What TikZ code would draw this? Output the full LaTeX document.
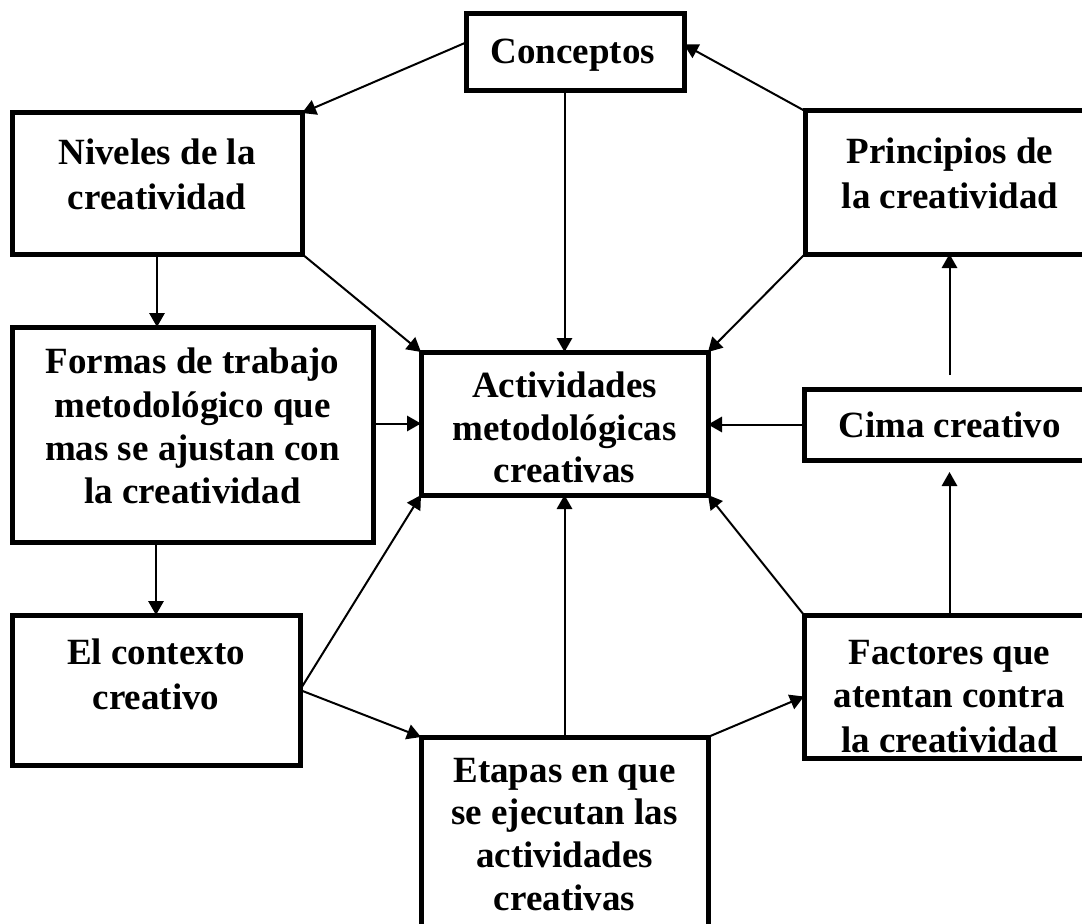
\documentclass[tikz,border=0pt]{standalone}
\usepackage{fontspec}
\setmainfont{Liberation Serif}
\usetikzlibrary{arrows.meta,calc}
\begin{document}
\begin{tikzpicture}[x=0.75pt,y=-0.75pt,
  bx/.style n args={2}{draw, line width=3.75pt, minimum width=#1*0.75pt, minimum height=#2*0.75pt, inner sep=0pt, outer sep=0pt},
  tx/.style={anchor=base, inner sep=0pt, font=\fontsize{27.75pt}{32pt}\selectfont\bfseries},
  conn/.style={line width=1.5pt, -{Triangle[length=10.5pt,width=11.5pt]}}]
\useasboundingbox (0,0) rectangle (1082,924);
\clip (0,0) rectangle (1082,924);
% boxes
\node[bx={218}{77}]  (conc) at (575,52.5) {};
\node[bx={290}{141}] (niv)  at (157,183.5) {};
\node[bx={290}{143}] (prin) at (950,182.5) {};
\node[bx={361}{215}] (form) at (192.5,434.5) {};
\node[bx={287}{143}] (act)  at (564.5,423.5) {};
\node[bx={291}{71}]  (cima) at (949.5,424.5) {};
\node[bx={288}{150}] (ctx)  at (156,690) {};
\node[bx={287}{223}] (etap) at (564.5,848.5) {};
\node[bx={291}{143}] (fact) at (949.5,686.5) {};
% texts
\node[tx] (conct1) at (573,64) {Conceptos};
\node[tx] (nivt1) at (157,164) {Niveles de la};
\node[tx] (nivt2) at (157,209) {creatividad};
\node[tx] (print1) at (950,163) {Principios de};
\node[tx] (print2) at (950,208) {la creatividad};
\node[tx] (formt1) at (192.5,373) {Formas de trabajo};
\node[tx] (formt2) at (192.5,417) {metodológico que};
\node[tx] (formt3) at (192.5,460) {mas se ajustan con};
\node[tx] (formt4) at (192.5,503) {la creatividad};
\node[tx] (actt1) at (564.5,397) {Actividades};
\node[tx] (actt2) at (564.5,440) {metodológicas};
\node[tx] (actt3) at (564.5,482) {creativas};
\node[tx] (cimat1) at (949.5,437) {Cima creativo};
\node[tx] (ctxt1) at (156,664) {El contexto};
\node[tx] (ctxt2) at (156,709) {creativo};
\node[tx] (etapt1) at (564.5,782) {Etapas en que};
\node[tx] (etapt2) at (564.5,824) {se ejecutan las};
\node[tx] (etapt3) at (564.5,867) {actividades};
\node[tx] (etapt4) at (564.5,910) {creativas};
\node[tx] (factt1) at (949.5,664) {Factores que};
\node[tx] (factt2) at (949.5,707) {atentan contra};
\node[tx] (factt3) at (949.5,752) {la creatividad};
% helper coordinates
\coordinate (concw) at ($(conc.west)+(0,-10)$);
\coordinate (conce) at ($(conc.east)+(0,-8)$);
\coordinate (cimatop) at ($(cima.north)+(0,-14)$);
\coordinate (cimabot) at ($(cima.south)+(0,12)$);
\coordinate (factw) at ($(fact.west)+(0,10)$);
% connectors
\draw[conn] (concw) -- (niv.north east);
\draw[conn] (conc.south -| act.north) -- (act.north);
\draw[conn] (prin.north west) -- (conce);
\draw[conn] (niv.south east) -- (act.north west);
\draw[conn] (niv.south) -- (niv.south |- form.north);
\draw[conn] (prin.south west) -- (act.north east);
\draw[conn] (act.west -| form.east) -- (act.west);
\draw[conn] (cima.west) -- (cima.west -| act.east);
\draw[conn] (cimatop) -- (prin.south -| cimatop);
\draw[conn] (fact.north) -- (cimabot);
\draw[conn] (fact.north west) -- (act.south east);
\draw[conn] (etap.north) -- (act.south);
\draw[conn] (ctx.east) -- (act.south west);
\draw[conn] (ctx.east) -- (etap.north west);
\draw[conn] (etap.north east) -- (factw);
\draw[conn] (form.south -| ctx.north) -- (ctx.north);
\end{tikzpicture}
\end{document}
